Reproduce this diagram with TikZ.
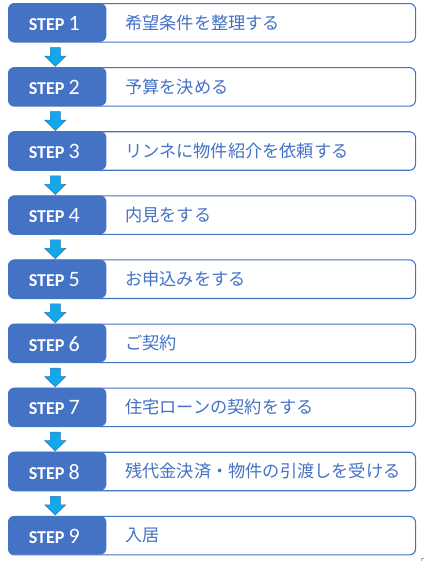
\documentclass[tikz,border=0pt]{standalone}
\usepackage{fontspec}
\setmainfont{Carlito}
\newfontfamily\jpfont{Noto Sans CJK JP}
\usetikzlibrary{calc}
\definecolor{stepblue}{RGB}{68,114,196}
\definecolor{arrowfill}{RGB}{16,170,236}
\definecolor{arrowedge}{RGB}{46,117,182}
\tikzset{
  whitebox/.style={draw=stepblue, line width=0.8pt, fill=white, rounded corners=4.5pt,
    minimum width=305.25pt, minimum height=28.9pt, anchor=north west, inner sep=0pt},
  bluebox/.style={fill=stepblue, rounded corners=4.5pt,
    minimum width=73.5pt, minimum height=28.9pt, anchor=north west, inner sep=0pt},
  steplabel/.style={text=white, inner sep=0pt},
  jptext/.style={text=stepblue, anchor=west, inner sep=0pt, font=\jpfont\fontsize{12.9pt}{14pt}\selectfont},
  blockarrow/.style={fill=arrowfill, draw=arrowedge, line width=0.4pt, line join=miter},
}
\newcommand{\steptxt}[1]{{\fontsize{13.6pt}{14pt}\selectfont\bfseries STEP}\hspace{3pt}{\fontsize{16.5pt}{17pt}\selectfont #1}}
\begin{document}
\begin{tikzpicture}[x=0.75pt,y=-0.75pt]
\useasboundingbox (0,0) rectangle (424,561);
\foreach \i/\t in {1/希望条件を整理する,2/予算を決める,3/リンネに物件紹介を依頼する,4/内見をする,5/お申込みをする,6/ご契約,7/住宅ローンの契約をする,8/残代金決済・物件の引渡しを受ける,9/入居}{
  \pgfmathsetmacro\top{3+64.1*(\i-1)}
  \node[whitebox] (w\i) at (8,\top) {};
  \node[bluebox] (b\i) at (8,\top) {};
  \node[steplabel] (s\i) at ($(b\i.center)+(-3,0.8)$) {\steptxt{\i}};
  \node[jptext] (t\i) at (125,\top+19.5) {\t};
}
\foreach \i in {1,...,8}{
  \pgfmathtruncatemacro\j{\i+1}
  \draw[blockarrow] ($(b\i.south)+(-7,5.5)$) -- ($(b\i.south)+(3,5.5)$) -- ($(b\i.south)+(3,14)$)
    -- ($(b\i.south)+(8.5,14)$) -- ($(b\j.north)+(-2,-0.8)$) -- ($(b\i.south)+(-12.5,14)$)
    -- ($(b\i.south)+(-7,14)$) -- cycle;
}
\coordinate (m1) at (421,561);
\coordinate (m2) at (421,558);
\coordinate (m3) at (424,558);
\draw[gray!70, line width=0.5pt] (m1) -- (m2) -- (m3);
\end{tikzpicture}
\end{document}
